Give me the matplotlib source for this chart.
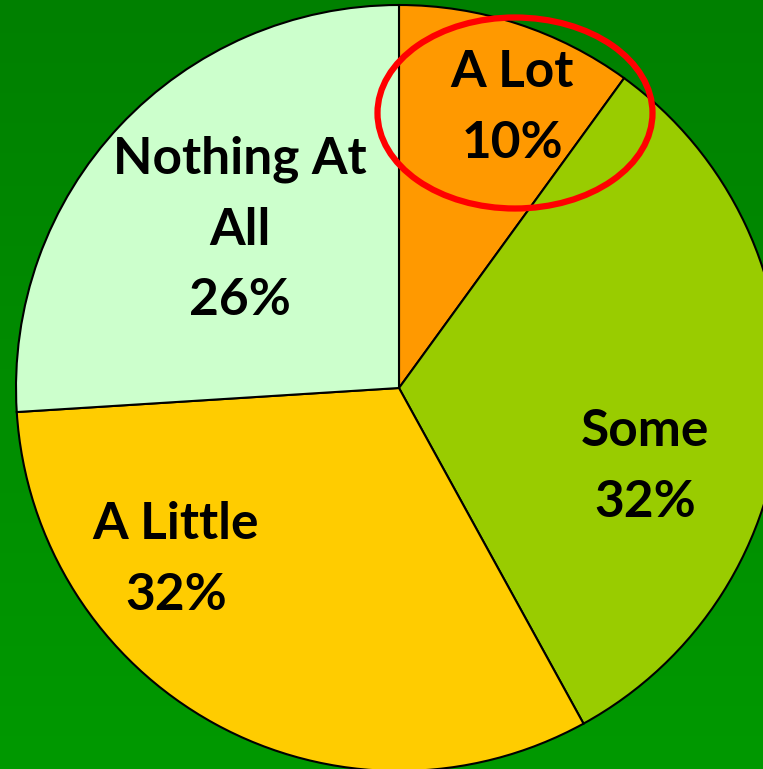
import numpy as np
import matplotlib
matplotlib.use("Agg")
import matplotlib.pyplot as plt
from matplotlib.colors import LinearSegmentedColormap
from matplotlib.patches import Ellipse

# Data
categories = ["A Lot", "Some", "A Little", "Nothing At\nAll"]
percents = [10, 32, 32, 26]
colors = ["#FF9900", "#99CC00", "#FFCC00", "#CCFFCC"]

W, H = 763, 769
fig = plt.figure(figsize=(W / 100, H / 100), dpi=100)

# background gradient (darker green at top, lighter at bottom)
bg = fig.add_axes([0, 0, 1, 1], zorder=0)
grad = np.linspace(0, 1, 256).reshape(-1, 1)
cmap = LinearSegmentedColormap.from_list("bg", ["#008000", "#009900"])
bg.imshow(grad, aspect="auto", cmap=cmap, extent=[0, 1, 0, 1])
bg.axis("off")

ax = fig.add_axes([0, 0, 1, 1], zorder=1)
ax.patch.set_alpha(0)

# pie in pixel coordinates (y up)
cx, cy, r = 399, H - 388, 383
wedges, _ = ax.pie(percents, colors=colors, startangle=90, counterclock=False,
                   center=(cx, cy), radius=r,
                   wedgeprops=dict(edgecolor="black", linewidth=1.5))
ax.set_xlim(0, W)
ax.set_ylim(0, H)
ax.set_aspect("auto")
ax.axis("off")

# label positions (pixels from top-left)
label_pos = [(512, 108), (645, 467), (176, 560), (240, 230)]
for name, p, (x, y) in zip(categories, percents, label_pos):
    ax.text(x, H - y, f"{name}\n{p}%", ha="center", va="center",
            fontsize=37, fontweight="bold", family=["Lato", "DejaVu Sans"],
            color="black", linespacing=1.62)

# red ellipse highlighting "A Lot"
ax.add_patch(Ellipse((515, H - 113), 275, 191, fill=False,
                     edgecolor="#FF0000", linewidth=4.5, zorder=5))

fig.savefig("out.png", dpi=100)
